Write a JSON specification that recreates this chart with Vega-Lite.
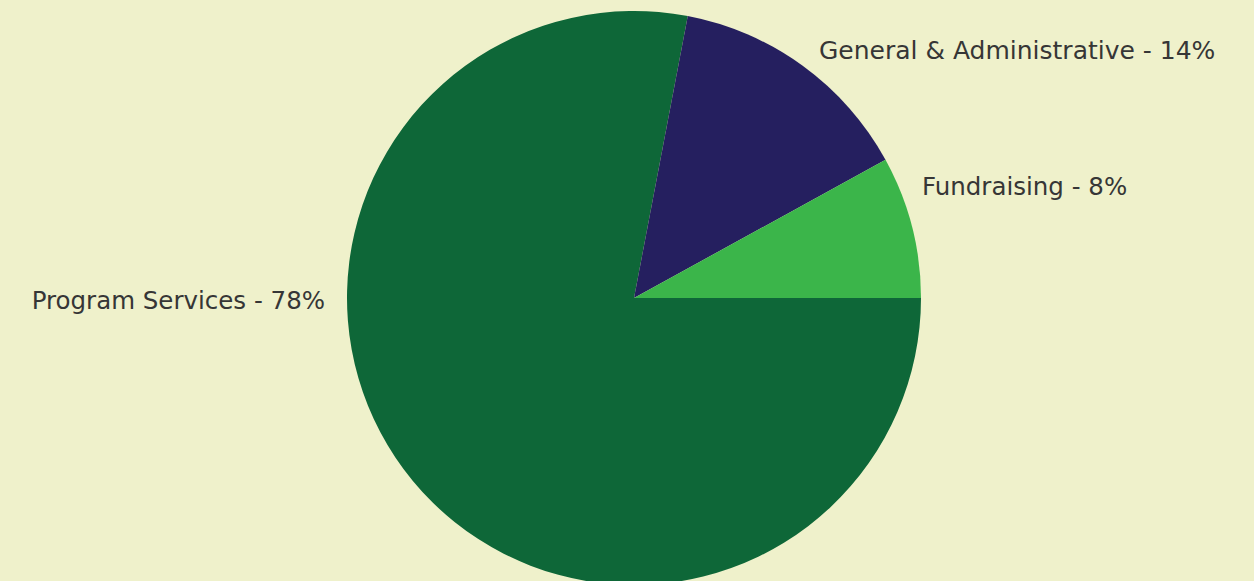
{
  "$schema": "https://vega.github.io/schema/vega-lite/v6.json",
  "width": 1240,
  "height": 566,
  "autosize": {"type": "none"},
  "padding": {"left": 14, "top": 15, "right": 0, "bottom": 0},
  "background": "#eff1cb",
  "config": {"view": {"stroke": null}},
  "data": {
    "values": [
      {"category": "Program Services", "percent": 78, "rank": 1, "label": "Program Services - 78%"},
      {"category": "General & Administrative", "percent": 14, "rank": 2, "label": "General & Administrative - 14%"},
      {"category": "Fundraising", "percent": 8, "rank": 3, "label": "Fundraising - 8%"}
    ]
  },
  "layer": [
    {
      "mark": {"type": "arc", "outerRadius": 287, "stroke": null},
      "encoding": {
        "theta": {"field": "percent", "type": "quantitative", "stack": true, "scale": {"range": [1.5707963, 7.8539816]}},
        "order": {"field": "rank", "type": "ordinal"},
        "color": {
          "field": "category",
          "type": "nominal",
          "scale": {
            "domain": ["Program Services", "General & Administrative", "Fundraising"],
            "range": ["#0e6738", "#251f5f", "#3bb54a"]
          },
          "legend": null
        }
      }
    },
    {
      "transform": [{"filter": "datum.category === 'General & Administrative'"}],
      "mark": {"type": "text", "align": "left", "baseline": "alphabetic", "dx": 185, "dy": -239, "font": "DejaVu Sans", "fontSize": 25, "color": "#363636"},
      "encoding": {"text": {"field": "label", "type": "nominal"}}
    },
    {
      "transform": [{"filter": "datum.category === 'Fundraising'"}],
      "mark": {"type": "text", "align": "left", "baseline": "alphabetic", "dx": 288, "dy": -103, "font": "DejaVu Sans", "fontSize": 24.5, "color": "#363636"},
      "encoding": {"text": {"field": "label", "type": "nominal"}}
    },
    {
      "transform": [{"filter": "datum.category === 'Program Services'"}],
      "mark": {"type": "text", "align": "right", "baseline": "alphabetic", "dx": -309, "dy": 11, "font": "DejaVu Sans", "fontSize": 24.5, "color": "#363636"},
      "encoding": {"text": {"field": "label", "type": "nominal"}}
    }
  ]
}
